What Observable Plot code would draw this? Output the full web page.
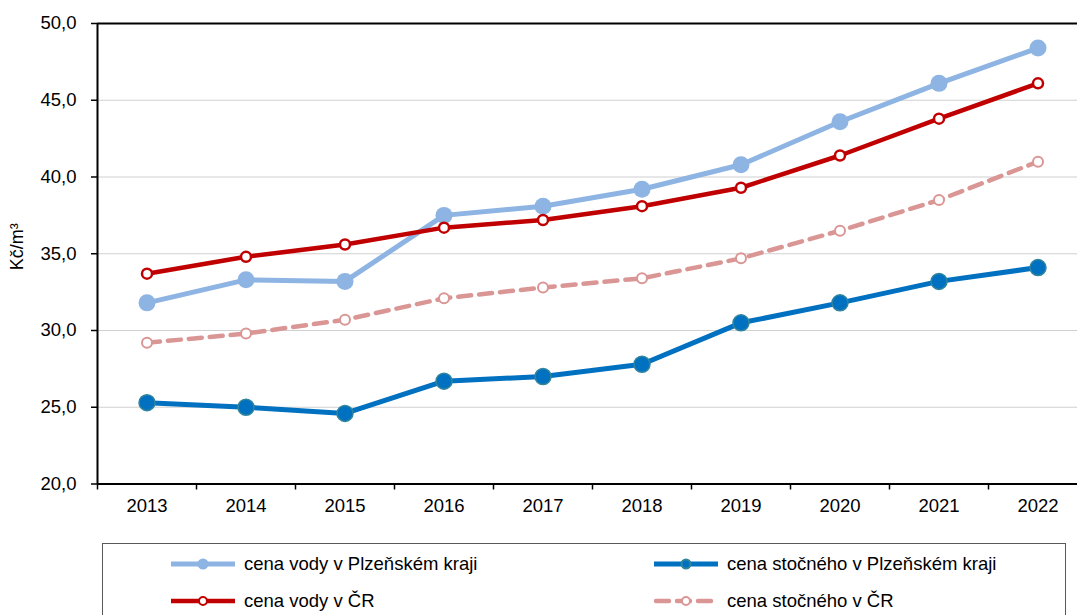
<!DOCTYPE html>
<html>
<head>
<meta charset="utf-8">
<script src="https://cdn.jsdelivr.net/npm/d3@7"></script>
<script src="https://cdn.jsdelivr.net/npm/@observablehq/plot@0.6"></script>
<style>
  html, body { margin: 0; padding: 0; background: #fff; overflow: hidden; }
  body { width: 1077px; height: 615px; position: relative; font-family: "Liberation Sans", Arial, sans-serif; }
  #chart { position: absolute; left: 0; top: 0; }
  #chart svg g[aria-label$="tick label"] { font-size: 18.5px; }
  #chart svg g[aria-label="text"] text { font-size: 18px !important; }
  #legend { position: absolute; left: 102px; top: 543px; width: 964px; height: 90px; border: 1px solid #595959; box-sizing: border-box; }
  .item { position: absolute; display: flex; align-items: center; font-size: 18.5px; color: #000; height: 26px; }
  .item svg { margin-right: 9px; }
</style>
</head>
<body>
<div id="chart"></div>
<div id="legend"></div>
<script>
const years = [2013, 2014, 2015, 2016, 2017, 2018, 2019, 2020, 2021, 2022];
const vodaPlzen   = [31.8, 33.3, 33.2, 37.5, 38.1, 39.2, 40.8, 43.6, 46.1, 48.4];
const stocnePlzen = [25.3, 25.0, 24.6, 26.7, 27.0, 27.8, 30.5, 31.8, 33.2, 34.1];
const vodaCR      = [33.7, 34.8, 35.6, 36.7, 37.2, 38.1, 39.3, 41.4, 43.8, 46.1];
const stocneCR    = [29.2, 29.8, 30.7, 32.1, 32.8, 33.4, 34.7, 36.5, 38.5, 41.0];
const yTicks = [20, 25, 30, 35, 40, 45, 50];
const seriesNames = [
  "cena vody v Plzeňském kraji",
  "cena stočného v Plzeňském kraji",
  "cena vody v ČR",
  "cena stočného v ČR"
];

const toRows = vals => years.map((yr, i) => ({year: yr, value: vals[i]}));
const dVodaPlzen = toRows(vodaPlzen);
const dStocnePlzen = toRows(stocnePlzen);
const dVodaCR = toRows(vodaCR);
const dStocneCR = toRows(stocneCR);
const boundaries = [years[0] - 0.5, ...years.map(y => y + 0.5)];

const fmt = d => d.toFixed(1).replace(".", ",");

const chart = Plot.plot({
  width: 1077,
  height: 530,
  marginLeft: 97,
  marginRight: 0,
  marginTop: 23,
  marginBottom: 46.5,
  style: {fontFamily: "Liberation Sans, Arial, sans-serif", fontSize: "18.5px", color: "#000", overflow: "visible"},
  x: {type: "linear", domain: [years[0] - 0.5, years[years.length - 1] + 0.5], range: [97, 1087]},
  y: {domain: [20, 50]},
  marks: [
    Plot.gridY(yTicks.slice(1, -1), {stroke: "#d0d0d0", strokeOpacity: 1, strokeWidth: 1.2}),
    Plot.ruleY([50], {stroke: "#000", strokeWidth: 2}),
    Plot.ruleY([20], {stroke: "#000", strokeWidth: 2}),
    Plot.ruleX([years[0] - 0.5], {stroke: "#000", strokeWidth: 2}),
    Plot.axisY({ticks: yTicks, tickFormat: fmt, tickSize: 6, tickPadding: 15, label: null, fontSize: 18.5, stroke: "#000", strokeWidth: 1.5}),
    Plot.axisX({ticks: boundaries, tickFormat: () => "", tickSize: 6, label: null, stroke: "#000", strokeWidth: 1.5}),
    Plot.axisX({ticks: years, tickFormat: d => String(d), tickSize: 0, tickPadding: 15, label: null, fontSize: 18.5}),
    Plot.text(["Kč/m³"], {frameAnchor: "left", textAnchor: "middle", dx: -80, dy: -7, rotate: -90, fontSize: 18, fill: "#000"}),
    // cena vody v Plzeňském kraji
    Plot.line(dVodaPlzen, {x: "year", y: "value", stroke: "#8DB4E2", strokeWidth: 5}),
    Plot.dot(dVodaPlzen, {x: "year", y: "value", r: 8.5, fill: "#8DB4E2", stroke: "#8DB4E2", strokeWidth: 0}),
    // cena stočného v Plzeňském kraji
    Plot.line(dStocnePlzen, {x: "year", y: "value", stroke: "#0070C0", strokeWidth: 5}),
    Plot.dot(dStocnePlzen, {x: "year", y: "value", r: 8, fill: "#0070C0", stroke: "#31859C", strokeWidth: 1.5}),
    // cena vody v ČR
    Plot.line(dVodaCR, {x: "year", y: "value", stroke: "#C00000", strokeWidth: 4.5}),
    Plot.dot(dVodaCR, {x: "year", y: "value", r: 5, fill: "#fff", stroke: "#C00000", strokeWidth: 2.5}),
    // cena stočného v ČR
    Plot.line(dStocneCR, {x: "year", y: "value", stroke: "#DA9694", strokeWidth: 4.5, strokeDasharray: "13,8"}),
    Plot.dot(dStocneCR, {x: "year", y: "value", r: 5, fill: "#fff", stroke: "#DA9694", strokeWidth: 2})
  ]
});
document.getElementById("chart").appendChild(chart);

// Legend
const legendSpecs = [
  {name: seriesNames[0], color: "#8DB4E2", dash: null, width: 5, r: 4.5, fill: "#8DB4E2", mstroke: "#8DB4E2", left: 68, top: 7},
  {name: seriesNames[1], color: "#0070C0", dash: null, width: 5, r: 4.5, fill: "#0070C0", mstroke: "#31859C", left: 551, top: 7},
  {name: seriesNames[2], color: "#C00000", dash: null, width: 4.5, r: 4, fill: "#fff", mstroke: "#C00000", left: 68, top: 44},
  {name: seriesNames[3], color: "#DA9694", dash: "13,8", width: 4.5, r: 4, fill: "#fff", mstroke: "#DA9694", left: 551, top: 44}
];
const legend = document.getElementById("legend");
for (const s of legendSpecs) {
  const div = document.createElement("div");
  div.className = "item";
  div.style.left = s.left + "px";
  div.style.top = s.top + "px";
  const dash = s.dash ? `stroke-dasharray="13,8" stroke-dashoffset="-2"` : "";
  div.innerHTML = `<svg width="64" height="14" viewBox="0 0 64 14">
      <line x1="0" x2="64" y1="7" y2="7" stroke="${s.color}" stroke-width="${s.width}" stroke-linecap="round" ${dash}></line>
      <circle cx="32" cy="7" r="${s.r}" fill="${s.fill}" stroke="${s.mstroke}" stroke-width="2"></circle>
    </svg><span>${s.name}</span>`;
  legend.appendChild(div);
}
</script>
</body>
</html>
